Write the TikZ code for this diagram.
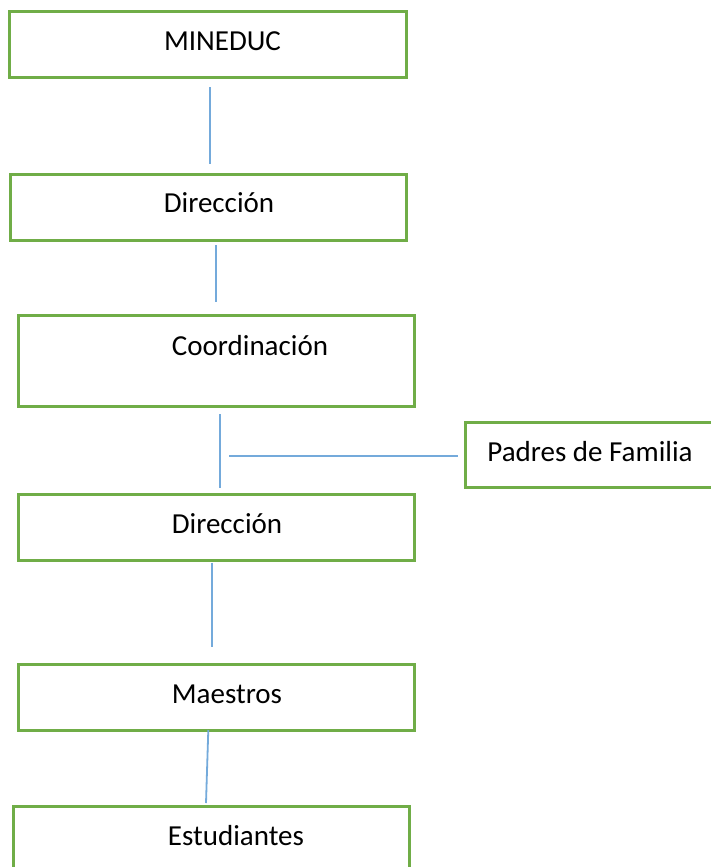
\documentclass[tikz,border=0pt]{standalone}
\usepackage{fontspec}
\setmainfont{Carlito}
\definecolor{boxgreen}{HTML}{70AD47}
\definecolor{linkblue}{HTML}{5B9BD5}
\tikzset{
  box/.style={draw=boxgreen, line width=3pt, fill=white, inner sep=0pt, minimum width=396pt, minimum height=65.5pt},
  lbl/.style={anchor=base, inner sep=0pt, font=\fontsize{29}{34}\selectfont},
  link/.style={draw=linkblue!85, line width=1.8pt}
}
\begin{document}
\begin{tikzpicture}[x=1pt,y=-1pt]
\clip (0,0) rectangle (711,867);
\fill[white] (0,0) rectangle (711,867);
% boxes
\node[box, minimum width=397pt] (b1) at (208,44.3) {};
\node[box] (b2) at (208,207.3) {};
\node[box, minimum height=91pt] (b3) at (216,361.2) {};
\node[box, minimum width=330pt, minimum height=65.3pt] (bp) at (630,455.3) {};
\node[box, minimum height=65.7pt] (b4) at (216,527.8) {};
\node[box, minimum height=66pt] (b5) at (216,697) {};
\node[box] (b6) at (211.3,839.5) {};
% labels
\node[lbl] (t1) at (222.5,50.7) {MINEDUC};
\node[lbl] (t2) at (219,212.7) {Dirección};
\node[lbl] (t3) at (250,355) {Coordinación};
\node[lbl] (tp) at (590,461) {Padres de Familia};
\node[lbl] (t4) at (227,533) {Dirección};
\node[lbl] (t5) at (227,703) {Maestros};
\node[lbl] (t6) at (236,845.7) {Estudiantes};
% connector ends
\coordinate (l1a) at (210,87);     \coordinate (l1b) at (210,164);
\coordinate (l2a) at (216,245);    \coordinate (l2b) at (216,302);
\coordinate (l3a) at (220,414);    \coordinate (l3b) at (220,488);
\coordinate (ha) at (229,456);     \coordinate (hb) at (458,456);
\coordinate (l4a) at (212,562.7);  \coordinate (l4b) at (212,646.7);
\coordinate (l5a) at (208.3,730);  \coordinate (l5b) at (206,803);
\draw[link] (l1a) -- (l1b);
\draw[link] (l2a) -- (l2b);
\draw[link] (l3a) -- (l3b);
\draw[link] (ha) -- (hb);
\draw[link] (l4a) -- (l4b);
\draw[link] (l5a) -- (l5b);
\end{tikzpicture}
\end{document}
